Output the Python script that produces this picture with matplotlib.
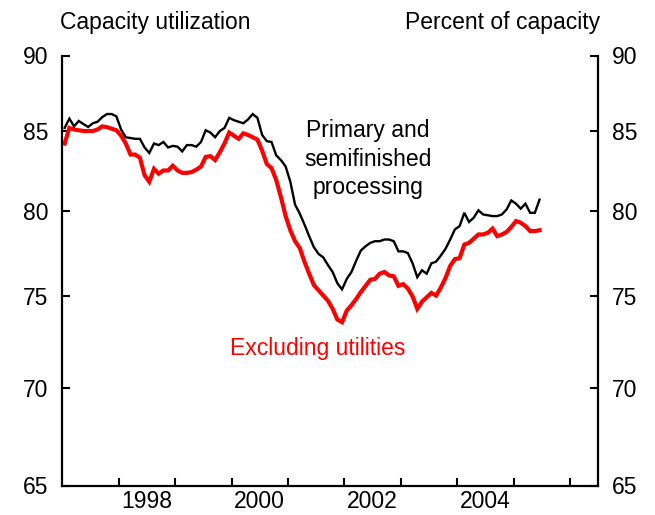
import numpy as np
import matplotlib
matplotlib.use("Agg")
import matplotlib.pyplot as plt
from matplotlib.ticker import FixedLocator, NullFormatter, NullLocator

plt.rcParams['font.family'] = ['Liberation Sans', 'DejaVu Sans']

# monthly, Jan 1997 - Jun 2005
start_year = 1997
primary = [85.2, 85.8, 85.3, 85.65, 85.45, 85.26, 85.5, 85.6, 85.9, 86.1, 86.1, 85.95,
           85.1, 84.6, 84.55, 84.5, 84.5, 83.95, 83.6, 84.2, 84.1, 84.3, 83.95, 84.05,
           84.0, 83.7, 84.1, 84.1, 84.0, 84.3, 85.05, 84.9, 84.6, 85.0, 85.2, 85.85,
           85.7, 85.6, 85.5, 85.75, 86.1, 85.85, 84.75, 84.35, 84.3, 83.45, 83.15, 82.75,
           81.8, 80.4, 79.85, 79.2, 78.5, 77.85, 77.45, 77.25, 76.8, 76.4, 75.75, 75.4,
           76.0, 76.4, 77.05, 77.65, 77.9, 78.1, 78.2, 78.2, 78.3, 78.3, 78.2, 77.6,
           77.6, 77.5, 76.9, 76.1, 76.5, 76.3, 76.9, 77.0, 77.35, 77.75, 78.3, 78.9,
           79.1, 79.9, 79.35, 79.6, 80.05, 79.8, 79.75, 79.7, 79.7, 79.8, 80.1, 80.65,
           80.45, 80.15, 80.45, 79.9, 79.9, 80.7]
excl_util = [84.2, 85.2, 85.1, 85.05, 85.0, 85.0, 85.0, 85.1, 85.3, 85.25, 85.15, 85.05,
             84.7, 84.2, 83.5, 83.5, 83.3, 82.2, 81.8, 82.6, 82.3, 82.5, 82.5, 82.8,
             82.5, 82.35, 82.35, 82.4, 82.55, 82.75, 83.35, 83.4, 83.15, 83.65, 84.2, 84.9,
             84.7, 84.5, 84.85, 84.75, 84.6, 84.45, 83.75, 82.9, 82.65, 81.9, 80.85, 79.7,
             78.85, 78.2, 77.8, 77.0, 76.3, 75.65, 75.35, 75.05, 74.75, 74.3, 73.7, 73.55,
             74.2, 74.5, 74.85, 75.25, 75.6, 75.95, 76.0, 76.3, 76.4, 76.2, 76.15, 75.6,
             75.7, 75.45, 75.0, 74.3, 74.7, 74.95, 75.2, 75.05, 75.5, 76.05, 76.75, 77.15,
             77.2, 78.0, 78.1, 78.35, 78.6, 78.6, 78.7, 78.95, 78.5, 78.6, 78.75, 79.05,
             79.4, 79.3, 79.1, 78.8, 78.8, 78.85]
y_ticks = [65, 70, 75, 80, 85, 90]
year_labels = [1998, 2000, 2002, 2004]

t = start_year + (np.arange(len(primary)) + 0.5) / 12.0
fs = 16.5

fig = plt.figure(figsize=(6.55, 5.15), dpi=100)
ax = fig.add_axes([62.3 / 655, 29.5 / 515, 536 / 655, 430 / 515])

ax.plot(t, excl_util, color='#ff0000', lw=3.0, solid_joinstyle='miter')
ax.plot(t, primary, color='black', lw=1.7, solid_joinstyle='miter')

ax.set_yscale('log')
ax.set_ylim(65, 90)
ax.yaxis.set_major_locator(FixedLocator(y_ticks))
ax.yaxis.set_minor_locator(NullLocator())
ax.set_yticklabels([str(v) for v in y_ticks])
ax.set_xlim(1997, 2006.5)
ax.xaxis.set_major_locator(FixedLocator(np.arange(1998, 2007)))
ax.xaxis.set_major_formatter(NullFormatter())
ax.xaxis.set_minor_locator(FixedLocator([y + 0.5 for y in year_labels]))
ax.set_xticklabels([str(y) for y in year_labels], minor=True)

for s in ['left', 'right', 'bottom']:
    ax.spines[s].set_linewidth(1.6)
ax.spines['top'].set_visible(False)

ax.tick_params(axis='y', which='major', direction='in', length=6, width=1.5,
               left=True, right=True, labelleft=True, labelright=True,
               labelsize=fs, pad=10)
ax.tick_params(axis='x', which='major', direction='in', length=6, width=1.5)
ax.tick_params(axis='x', which='minor', length=0, labelsize=fs, pad=3)

fig.text(60 / 655, 1 - 22 / 515, 'Capacity utilization', fontsize=fs,
         ha='left', va='center')
fig.text(600 / 655, 1 - 22 / 515, 'Percent of capacity', fontsize=fs,
         ha='right', va='center')

ax.text(2002.42, 83.2, 'Primary and\nsemifinished\nprocessing', fontsize=fs,
        ha='center', va='center', linespacing=1.3)
ax.text(2001.53, 72.1, 'Excluding utilities', fontsize=fs, color='#ff0000',
        ha='center', va='center')

fig.savefig('out.png', dpi=100)
